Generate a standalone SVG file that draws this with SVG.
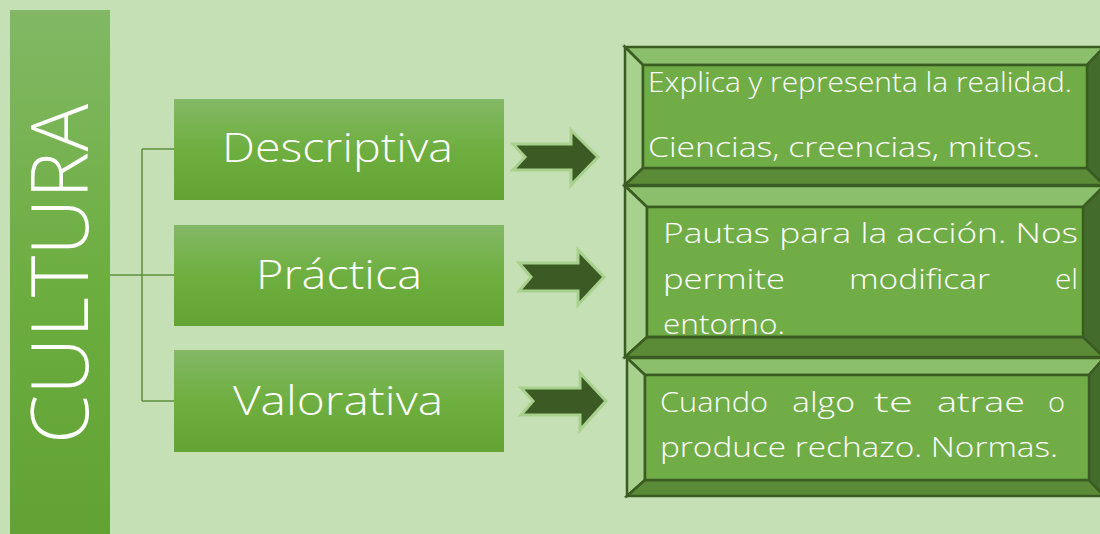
<svg xmlns="http://www.w3.org/2000/svg" width="1100" height="534" viewBox="0 0 1100 534">
  <defs>
    <linearGradient id="gBar" x1="0" y1="0" x2="0" y2="1">
      <stop offset="0" stop-color="#82B865"/>
      <stop offset="0.5" stop-color="#6DAE41"/>
      <stop offset="1" stop-color="#62A234"/>
    </linearGradient>
    <linearGradient id="gBox" x1="0" y1="0" x2="0" y2="1">
      <stop offset="0" stop-color="#83B865"/>
      <stop offset="0.5" stop-color="#6EAF40"/>
      <stop offset="1" stop-color="#62A334"/>
    </linearGradient>
    <clipPath id="clipB"><rect x="647" y="207" width="436" height="130"/></clipPath>
  </defs>
  <style>
    .t { font-family: "Open Sans", "Liberation Sans", sans-serif; fill: #FFFFFF; font-weight: 300; }
    .lbl { font-size: 40px; }
    .txt { font-size: 27px; }
    .conn { stroke: #5E8F3F; stroke-width: 1.5; fill: none; }
    .arrow { fill: #3B5A24; stroke: #A9D18E; stroke-width: 3; stroke-linejoin: miter; }
    .bv { stroke: #3A5C23; stroke-width: 2.5; stroke-linejoin: miter; }
    .bt { fill: #8CBF6C; }
    .bl { fill: #A9D18E; }
    .bb { fill: #5B8B37; }
    .br { fill: #436B2B; }
    .bc { fill: #70AD47; }
  </style>

  <rect x="0" y="0" width="1100" height="534" fill="#C5E0B4"/>

  <g id="cultura">
    <rect x="10" y="10" width="100" height="530" fill="url(#gBar)"/>
    <text class="t" font-size="80" text-anchor="middle" textLength="340" lengthAdjust="spacingAndGlyphs" transform="translate(88,274) rotate(-90)">CULTURA</text>
  </g>

  <g id="connectors">
    <path class="conn" d="M110,275 H174 M142,149 V401 M142,149 H174 M142,401 H174"/>
    <polygon class="arrow" points="513,144 571,144 571,130 598,157 571,185 571,170 513,170 525,157"/>
    <polygon class="arrow" points="519,263 578,263 578,250 604,277 578,305 578,291 519,291 531,277"/>
    <polygon class="arrow" points="521,388 580,388 580,373 606,401 580,430 580,415 521,415 533,401"/>
  </g>

  <g id="descriptiva">
    <rect x="174" y="99" width="330" height="101" fill="url(#gBox)"/>
    <text class="t lbl" x="222" y="162" textLength="231" lengthAdjust="spacingAndGlyphs">Descriptiva</text>
  </g>
  <g id="practica">
    <rect x="174" y="225" width="330" height="101" fill="url(#gBox)"/>
    <text class="t lbl" x="256" y="289" textLength="166" lengthAdjust="spacingAndGlyphs">Práctica</text>
  </g>
  <g id="valorativa">
    <rect x="174" y="350" width="330" height="102" fill="url(#gBox)"/>
    <text class="t lbl" x="233" y="415" textLength="210" lengthAdjust="spacingAndGlyphs">Valorativa</text>
  </g>

  <g id="desc-detalle">
    <polygon class="bv bt" points="625,47 1104,47 1087,65 643,65"/>
    <polygon class="bv bl" points="625,47 643,65 643,168 625,185"/>
    <polygon class="bv bb" points="625,185 643,168 1087,168 1104,185"/>
    <polygon class="bv br" points="1104,47 1104,185 1087,168 1087,65"/>
    <rect class="bv bc" x="643" y="65" width="444" height="103"/>
    <text class="t txt" x="648" y="92" textLength="424" lengthAdjust="spacingAndGlyphs">Explica y representa la realidad.</text>
    <text class="t txt" x="648" y="157" textLength="392" lengthAdjust="spacingAndGlyphs">Ciencias, creencias, mitos.</text>
  </g>

  <g id="prac-detalle">
    <polygon class="bv bt" points="625,186 1104,186 1083,207 647,207"/>
    <polygon class="bv bl" points="625,186 647,207 647,337 625,357"/>
    <polygon class="bv bb" points="625,357 647,337 1083,337 1104,357"/>
    <polygon class="bv br" points="1104,186 1104,357 1083,337 1083,207"/>
    <rect class="bv bc" x="647" y="207" width="436" height="130"/>
    <g clip-path="url(#clipB)">
      <text class="t txt" x="663" y="243" textLength="415" lengthAdjust="spacingAndGlyphs">Pautas para la acción. Nos</text>
      <text class="t txt" x="663" y="289" textLength="122" lengthAdjust="spacingAndGlyphs">permite</text>
      <text class="t txt" x="849" y="289" textLength="141" lengthAdjust="spacingAndGlyphs">modificar</text>
      <text class="t txt" x="1055" y="289" textLength="23" lengthAdjust="spacingAndGlyphs">el</text>
      <text class="t txt" x="663" y="334" textLength="122" lengthAdjust="spacingAndGlyphs">entorno.</text>
    </g>
    <line x1="647" y1="337" x2="1083" y2="337" stroke="#3A5C23" stroke-width="2.5"/>
  </g>

  <g id="valo-detalle">
    <polygon class="bv bt" points="627,358 1104,358 1089,375 645,375"/>
    <polygon class="bv bl" points="627,358 645,375 645,480 627,496"/>
    <polygon class="bv bb" points="627,496 645,480 1089,480 1104,496"/>
    <polygon class="bv br" points="1104,358 1104,496 1089,480 1089,375"/>
    <rect class="bv bc" x="645" y="375" width="444" height="105"/>
    <text class="t txt" x="660" y="412" textLength="108" lengthAdjust="spacingAndGlyphs">Cuando</text>
    <text class="t txt" x="792" y="412" textLength="63" lengthAdjust="spacingAndGlyphs">algo</text>
    <text class="t txt" x="874" y="412" textLength="39" lengthAdjust="spacingAndGlyphs">te</text>
    <text class="t txt" x="937" y="412" textLength="88" lengthAdjust="spacingAndGlyphs">atrae</text>
    <text class="t txt" x="1048" y="412" textLength="17" lengthAdjust="spacingAndGlyphs">o</text>
    <text class="t txt" x="660" y="457" textLength="398" lengthAdjust="spacingAndGlyphs">produce rechazo. Normas.</text>
  </g>
</svg>
